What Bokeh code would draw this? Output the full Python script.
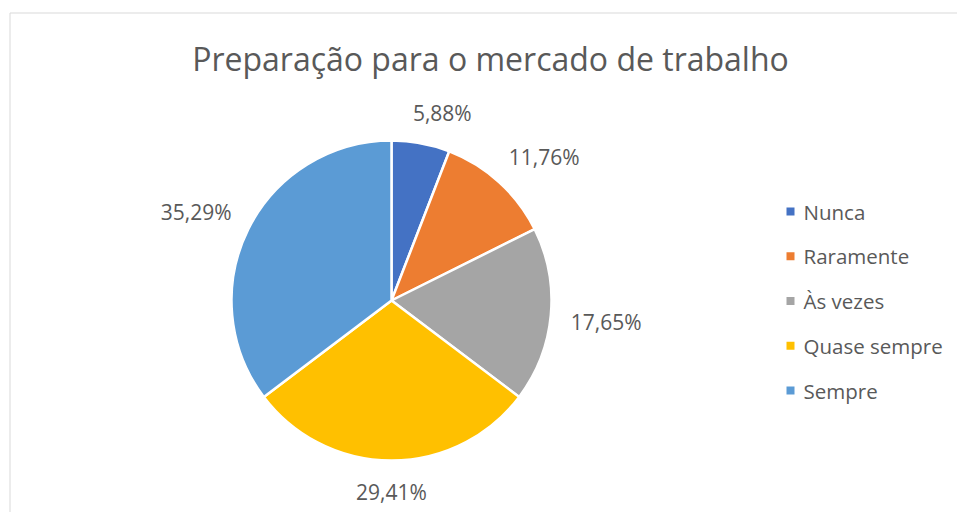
import numpy as np
from bokeh.plotting import figure
from bokeh.models import Range1d, ColumnDataSource
from bokeh.core.properties import value
from bokeh.embed import file_html
from bokeh.resources import INLINE

title_text = "Preparação para o mercado de trabalho"
categories = ["Nunca", "Raramente", "Às vezes", "Quase sempre", "Sempre"]
percentages = [5.88, 11.76, 17.65, 29.41, 35.29]
colors = ["#4472C4", "#ED7D31", "#A5A5A5", "#FFC000", "#5B9BD5"]

FONT = value("Open Sans")
TXT = "#595959"

W, H = 957, 512
p = figure(width=W, height=H, output_backend="svg", toolbar_location=None,
           x_range=Range1d(0, W), y_range=Range1d(-H, 0),
           min_border=0, outline_line_color=None, background_fill_color="white")
p.axis.visible = False
p.grid.visible = False

# chart border (light gray)
p.quad(left=[9.5], right=[1000], top=[-12.5], bottom=[-600],
       fill_color=None, line_color="#D9D9D9", line_width=1)

cx, cy, R = 391, -300, 160
vals = np.array(percentages)
frac = vals / vals.sum()
cum = np.cumsum(frac)
start = np.pi / 2 - 2 * np.pi * (cum - frac)
end = np.pi / 2 - 2 * np.pi * cum
mid = (start + end) / 2

src = ColumnDataSource(dict(start=start, end=end, color=colors, cat=categories))
p.wedge(x=cx, y=cy, radius=R, start_angle="start", end_angle="end",
        direction="clock", fill_color="color", line_color="white",
        line_width=2.5, source=src)

# data labels, placed outside the pie along each slice's mid angle
labels = [f"{v:.2f}".replace(".", ",") + "%" for v in percentages]
gap = 20
hh = 11
c, s = np.cos(mid), np.sin(mid)
sp = lambda t: np.sign(t) * np.abs(t) ** 0.3
hw = np.array([len(t) * 5.9 for t in labels])
lx = cx + (R + gap) * c + hw * sp(c)
ly = cy + (R + gap) * s + hh * sp(s)
p.text(x=lx, y=ly, text=labels, text_font=FONT, text_font_size="21px",
       text_color=TXT, text_align="center", text_baseline="middle")

# title
p.text(x=[490], y=[-58], text=[title_text], text_font=FONT,
       text_font_size="32px", text_color=TXT, text_align="center",
       text_baseline="middle")

# legend
ly0, ldy = -211, 44.75
leg_y = [ly0 - i * ldy for i in range(len(categories))]
p.rect(x=[790] * len(categories), y=leg_y, width=8, height=8,
       fill_color=colors, line_color=None)
p.text(x=[803] * len(categories), y=leg_y, text=categories, text_font=FONT,
       text_font_size="20.5px", text_color=TXT, text_align="left",
       text_baseline="middle")

open("out.html", "w").write(file_html(p, INLINE))
